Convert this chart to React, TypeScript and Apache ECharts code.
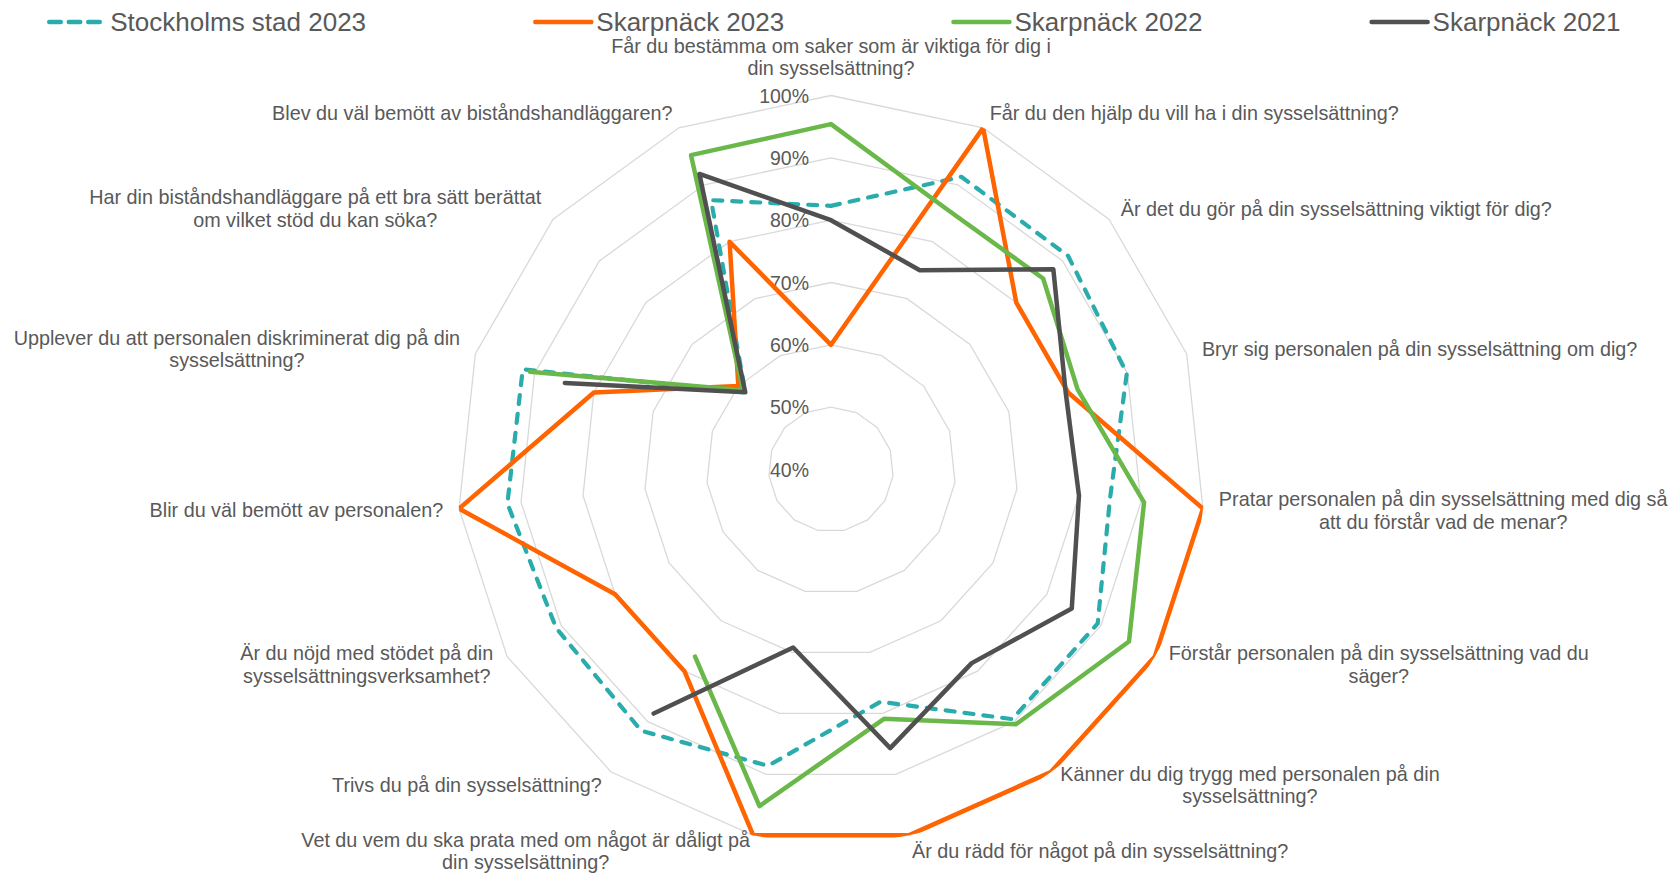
import React, { useEffect, useRef } from "react";
import * as echarts from "echarts";

const questions: string[] = [
  "Får du bestämma om saker som är viktiga för dig i\ndin sysselsättning?",
  "Får du den hjälp du vill ha i din sysselsättning?",
  "Är det du gör på din sysselsättning viktigt för dig?",
  "Bryr sig personalen på din sysselsättning om dig?",
  "Pratar personalen på din sysselsättning med dig så\natt du förstår vad de menar?",
  "Förstår personalen på din sysselsättning vad du\nsäger?",
  "Känner du dig trygg med personalen på din\nsysselsättning?",
  "Är du rädd för något på din sysselsättning?",
  "Vet du vem du ska prata med om något är dåligt på\ndin sysselsättning?",
  "Trivs du på din sysselsättning?",
  "Är du nöjd med stödet på din\nsysselsättningsverksamhet?",
  "Blir du väl bemött av personalen?",
  "Upplever du att personalen diskriminerat dig på din\nsysselsättning?",
  "Har din biståndshandläggare på ett bra sätt berättat\nom vilket stöd du kan söka?",
  "Blev du väl bemött av biståndshandläggaren?",
];

const seriesNames: string[] = [
  "Stockholms stad 2023",
  "Skarpnäck 2023",
  "Skarpnäck 2022",
  "Skarpnäck 2021",
];

const stockholm2023: (number | null)[] = [82.3, 91.4, 91.2, 89.9, 85, 89.4, 89.5, 78.1, 88.6, 91.8, 90.9, 92.2, 92, 58.5, 87.3];
const skarpnack2023: (number | null)[] = [60, 100, 80, 80, 100, 100, 100, 100, 100, 80, 80, 100, 80, 60, 80];
const skarpnack2022: (number | null)[] = [95.4, 85.7, 85.8, 81.6, 90.5, 95.2, 90.5, 80.9, 95.2, 77.1, null, null, 90.8, 59, 95.2];
const skarpnack2021: (number | null)[] = [80, 75, 88, 79.6, 80, 84.6, 78.4, 85.7, 69.2, 88.4, null, null, 84.9, 58.5, 91.9];

const colors: string[] = ["#2aacac", "#ff6400", "#6ab74a", "#505050"];

const FONT = "'Liberation Sans', Arial, Helvetica, sans-serif";
const TEXT = "#595959";

function toPolar(vals: (number | null)[]) {
  const pts: any[] = vals.map((v, i) => [v == null ? "-" : v, i]);
  // close the ring back at the first category (360°)
  pts.push([vals[0] == null ? "-" : vals[0], vals.length]);
  return pts;
}

export default function App() {
  const ref = useRef<HTMLDivElement>(null);

  useEffect(() => {
    if (!ref.current) return;
    const chart = echarts.init(ref.current, undefined, { renderer: "svg" });
    const center = [831, 469.5];
    const radius = 374;
    const n = questions.length;
    // radar runs counter-clockwise, so feed it in reverse (keeping the first at top)
    const radarOrder = [0, ...Array.from({ length: n - 1 }, (_, k) => n - 1 - k)];
    const allValues = [stockholm2023, skarpnack2023, skarpnack2022, skarpnack2021];

    const option: any = {
      animation: false,
      backgroundColor: "#ffffff",
      legend: {
        top: 9,
        left: 47,
        padding: 0,
        itemWidth: 56,
        itemHeight: 6,
        itemGap: 167,
        textStyle: { fontSize: 26, color: TEXT, fontFamily: FONT },
        lineStyle: { width: 4.5, cap: "round" },
        itemStyle: { opacity: 0 },
        data: [
          { name: seriesNames[0], lineStyle: { type: [11.5, 8], cap: "round" } },
          seriesNames[1],
          seriesNames[2],
          seriesNames[3],
        ],
      },
      radar: {
        center,
        radius,
        startAngle: 90,
        splitNumber: 6,
        shape: "polygon",
        nameGap: 16,
        indicator: radarOrder.map((i) => ({ name: questions[i], min: 40, max: 100 })),
        axisName: {
          show: true,
          color: TEXT,
          fontSize: 19.8,
          fontFamily: FONT,
          lineHeight: 22.5,
          formatter: (name: string) =>
            name
              .split("\n")
              .map((l) => `{c|${l}}`)
              .join("\n"),
          rich: {
            c: {
              align: "center",
              color: TEXT,
              fontSize: 19.8,
              fontFamily: FONT,
              lineHeight: 22.5,
            },
          },
        },
        axisLine: { show: false },
        axisTick: { show: false },
        axisLabel: { show: false },
        splitLine: { lineStyle: { color: "#d9d9d9", width: 1.3 } },
        splitArea: { show: false },
      },
      polar: { center, radius },
      angleAxis: {
        type: "value",
        min: 0,
        max: n,
        interval: 1,
        startAngle: 90,
        clockwise: true,
        axisLine: { show: false },
        axisTick: { show: false },
        axisLabel: { show: false },
        splitLine: { show: false },
      },
      radiusAxis: {
        type: "value",
        min: 40,
        max: 100,
        interval: 10,
        axisLine: { show: false },
        axisTick: { show: false },
        splitLine: { show: false },
        axisLabel: {
          formatter: "{value}%",
          margin: 22,
          color: TEXT,
          fontSize: 19.5,
          fontFamily: FONT,
        },
        z: 1,
      },
      series: allValues.map((vals, k) => ({
        name: seriesNames[k],
        type: "line",
        coordinateSystem: "polar",
        data: toPolar(vals),
        symbol: "none",
        clip: false,
        connectNulls: false,
        color: colors[k],
        lineStyle: {
          color: colors[k],
          width: k === 0 ? 4.2 : 4.5,
          cap: "round",
          join: "round",
          type: k === 0 ? [9, 10] : "solid",
        },
        z: 3 + k,
      })),
    };

    chart.setOption(option);
    return () => chart.dispose();
  }, []);

  return (
    <div
      ref={ref}
      style={{ position: "absolute", left: 0, top: 0, width: 1669, height: 873 }}
    />
  );
}
